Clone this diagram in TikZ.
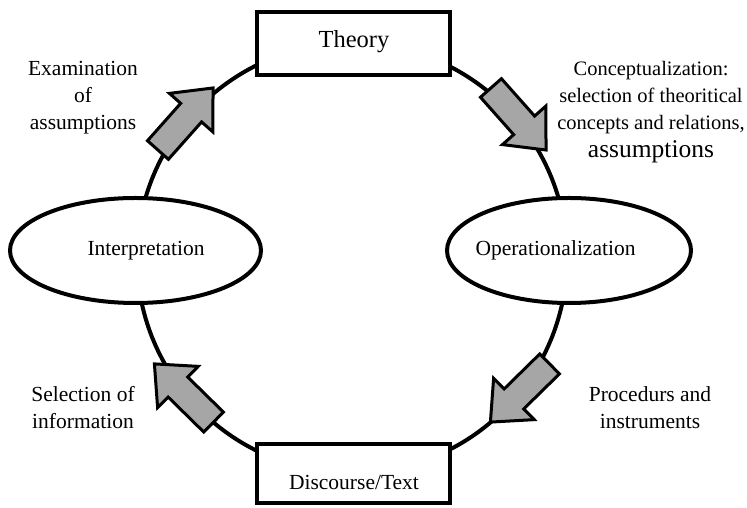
\documentclass[tikz,border=0pt]{standalone}
\usepackage{fontspec}
\setmainfont{Liberation Serif}
\usetikzlibrary{shapes.geometric}
\definecolor{arrowgray}{RGB}{166,166,166}
\tikzset{
  boxnode/.style={draw, line width=4pt, fill=white, rectangle, minimum width=193pt, inner sep=0pt},
  ellnode/.style={draw, line width=4pt, fill=white, ellipse, inner sep=0pt},
  lbl/.style={font=\fontsize{21.5}{27}\selectfont, align=center, inner sep=0pt, anchor=base},
  bigl/.style={font=\fontsize{24.5}{28}\selectfont, inner sep=0pt, anchor=base},
  blockarrow/.pic={
    \draw[line width=3pt, fill=arrowgray, line join=miter]
      (-41.5,-14) -- (8.5,-14) -- (8.5,-29) -- (41.5,0) -- (8.5,29) -- (8.5,14) -- (-41.5,14) -- cycle;
  }
}
\begin{document}
\begin{tikzpicture}[x=1pt,y=1pt]
\useasboundingbox (0,0) rectangle (747,508);
\fill[white] (0,0) rectangle (747,508);
% cycle
\coordinate (c) at (352,250);
\draw[line width=4pt] (c) circle[radius=215];
% nodes
\node[boxnode, minimum height=63pt] (theory) at (353.5,464.5) {};
\node[boxnode, minimum height=59pt] (disc) at (353.5,34) {};
\node[ellnode, minimum width=251pt, minimum height=105pt] (interp) at (135.5,257.5) {};
\node[ellnode, minimum width=244pt, minimum height=105pt] (oper) at (569,257.5) {};
% texts
\node[bigl] (theoryt) at (354,460) {Theory};
\node[lbl] (discT) at (354,18) {Discourse/Text};
\node[lbl] (interpt) at (146,252) {Interpretation};
\node[lbl] (opert) at (555.5,252) {Operationalization};
% arrows
\pic[rotate=48.4] (a1) at (185.5,389) {blockarrow};
\pic[rotate=-48.4] (a2) at (518.5,389) {blockarrow};
\pic[rotate=-135.5] (a3) at (520,115) {blockarrow};
\pic[rotate=135.5] (a4) at (184,115) {blockarrow};
% labels
\node[lbl] (exam) at (83,378) {Examination\\of\\assumptions};
\node[lbl, font=\fontsize{20.5}{27}\selectfont] (concept) at (651,350) {Conceptualization:\\selection of theoritical\\concepts and relations,\\[1pt]{\fontsize{25.5}{28}\selectfont assumptions}};
\node[lbl] (selinf) at (83,79) {Selection of\\information};
\node[lbl] (proc) at (650,79) {Procedurs and\\instruments};
\end{tikzpicture}
\end{document}
